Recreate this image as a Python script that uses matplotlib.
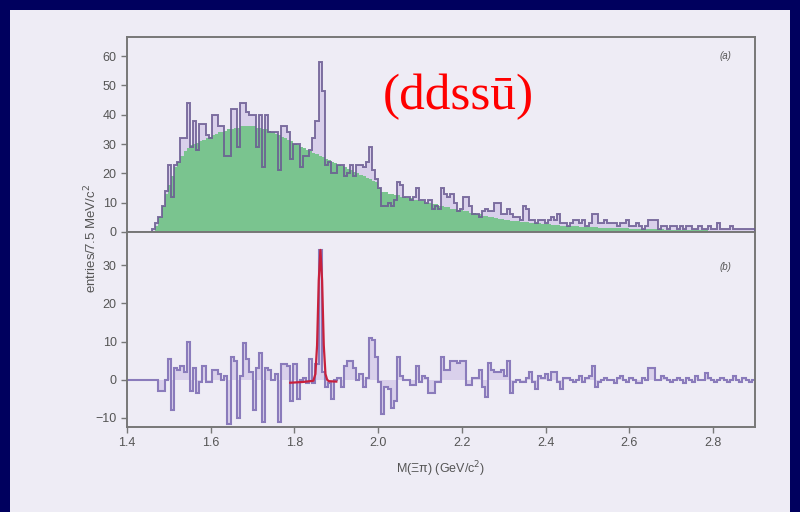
import numpy as np
import matplotlib
matplotlib.use("Agg")
import matplotlib.pyplot as plt
from matplotlib.patches import Rectangle

plt.rcParams['font.family'] = ['Liberation Sans', 'DejaVu Sans']

# Xi-pi invariant mass, 7.5 MeV bins from 1.4 to 2.9 GeV/c^2
mass_lo, mass_hi, n_bins = 1.4, 2.9, 200

# (a) observed entries per bin
data_counts = [
    0, 0, 0, 0, 0, 0, 0, 0, 1, 3,
    5, 9, 14, 23, 12, 23, 24, 32, 32, 44,
    29, 38, 28, 37, 37, 33, 32, 40, 40, 36,
    36, 26, 26, 42, 42, 29, 44, 44, 41, 40,
    40, 29, 40, 22, 40, 34, 34, 34, 21, 36,
    36, 34, 25, 30, 30, 22, 26, 26, 28, 32,
    38, 58, 48, 23, 24, 20, 20, 23, 23, 19,
    20, 23, 19, 23, 23, 22, 24, 29, 21, 18,
    15, 9, 9, 10, 9, 11, 17, 16, 12, 12,
    11, 12, 15, 11, 11, 10, 11, 8, 9, 8,
    15, 13, 12, 13, 10, 7, 8, 12, 12, 9,
    6, 6, 5, 7, 8, 7, 7, 10, 10, 6,
    6, 8, 6, 5, 5, 4, 9, 8, 4, 4,
    3, 4, 4, 3, 4, 5, 4, 6, 3, 3,
    2, 3, 4, 4, 3, 4, 2, 3, 6, 6,
    3, 3, 4, 3, 3, 3, 2, 3, 3, 4,
    2, 2, 3, 2, 1, 2, 4, 4, 4, 1,
    2, 2, 1, 2, 2, 1, 2, 1, 2, 2,
    1, 1, 2, 1, 1, 2, 1, 1, 3, 1,
    1, 1, 2, 1, 1, 1, 1, 1, 1, 1,
]

# (a) mixed-event background, normalised
background = [
    0, 0, 0, 0, 0, 0, 0, 0, 0.5, 2,
    5, 9, 13, 16, 19, 22, 24, 26, 27.5, 28.5,
    29.5, 30, 30.5, 31, 31.5, 32, 32.5, 33, 33.5, 34,
    34, 34.5, 35, 35, 35.5, 35.5, 36, 36, 36, 36,
    36, 35.5, 35.5, 35, 35, 34.5, 34, 33.5, 33, 32.5,
    32, 31.5, 31, 30, 29.5, 29, 28.5, 28, 27.5, 27,
    26.5, 26, 25.5, 25, 24.5, 24, 23.5, 23, 22.5, 22,
    21.5, 21, 20.5, 20, 19.5, 19, 18.5, 18, 17.5, 17,
    15, 13.5, 13.5, 13, 13, 12.5, 12.5, 12, 12, 11.5,
    11.5, 11, 11, 10.5, 10.5, 10, 10, 9.5, 9.5, 9,
    9, 8.5, 8.5, 8, 8, 7.5, 7.5, 7, 7, 6.5,
    6.5, 6, 6, 5.5, 5.5, 5, 5, 4.8, 4.6, 4.4,
    4.2, 4, 3.8, 3.7, 3.6, 3.5, 3.4, 3.3, 3.2, 3.1,
    3, 2.9, 2.8, 2.7, 2.6, 2.5, 2.4, 2.3, 2.2, 2.1,
    2, 2, 1.9, 1.9, 1.8, 1.8, 1.7, 1.7, 1.6, 1.6,
    1.5, 1.5, 1.4, 1.4, 1.3, 1.3, 1.3, 1.2, 1.2, 1.2,
    1.1, 1.1, 1.1, 1, 1, 1, 1, 0.9, 0.9, 0.9,
    0.9, 0.8, 0.8, 0.8, 0.8, 0.7, 0.7, 0.7, 0.7, 0.7,
    0.6, 0.6, 0.6, 0.6, 0.6, 0.5, 0.5, 0.5, 0.5, 0.5,
    0.5, 0.5, 0.4, 0.4, 0.4, 0.4, 0.4, 0.4, 0.4, 0.4,
]

# (b) background-subtracted spectrum
subtracted = [
    0, 0, 0, 0, 0, 0, 0, 0, 0, 0,
    -3, -3, 0, 5.5, -8, 3, 2.5, 3.5, 2, 10,
    -3, 3, -3.5, -0.5, 3.5, -0.5, -0.5, 2.5, 2.5, 1.5,
    0, 1, -11.5, 6, 5, -10, 1, 9.5, 5.5, 2,
    -8, 3, 7, -11, 3, 2.5, 0, 1.5, -11, 4,
    4, 3.5, -5.5, 4, -5, 0, 0.5, -1, 5.5, -1,
    4, 34, 2, -2, -1, -5, 0, 0.5, -2, 3.5,
    5, 5, 3, 0, 1.5, -2, 0.5, 11, 10.5, 6,
    -0.5, -9, -2, -2.5, -7.5, -5.5, 6, 1, 0, 0,
    -1.5, -1.5, 3.5, -0.5, 1, 0.5, -3.5, -3.5, -0.5, -0.5,
    6, 2.5, 2.5, 5, 5, 4.5, 5, 5, -1.5, -1.5,
    0.5, 0.5, 2.5, -2, -4.5, 4.5, 2.5, 2, 2, 2.5,
    1, 5, -3.5, -0.5, 0, -0.5, -0.5, 0.5, 2, -0.5,
    -2.5, 1, 0.5, 1.5, 0, 2, 2, -0.5, -2.5, 0.5,
    0.5, 0, -0.5, 0, 1, -0.5, 0.5, 1, 3.7, -2,
    -0.5, 0, 0.5, 0, 0, -1, 0.5, 1, 0, -0.5,
    0.5, 0, -1, -1, 0.5, 0, 3, 3, 0, 0,
    1, 0.5, 0, -0.5, 0, 0.5, 0, -1, 0.5, 0,
    -0.5, 1, 0, 0, 1.8, 0.5, 0, -0.5, 0, 0.5,
    0, -0.5, 0, 1, 0, -0.5, 0.5, 0, -0.5, 0,
]

# Gaussian fit to the peak near 1.862 GeV/c^2
fit_mass = [1.790, 1.820, 1.845, 1.850, 1.854, 1.858, 1.862,
            1.866, 1.870, 1.874, 1.878, 1.882, 1.900]
fit_value = [-0.8, -0.6, -0.3, 1.5, 9, 26, 34, 26, 9, 1.5, 0, -0.4, -0.5]

x_ticks = [1.4, 1.6, 1.8, 2.0, 2.2, 2.4, 2.6, 2.8]
x_tick_labels = ['1.4', '1.6', '1.8', '2.0', '2.2', '2.4', '2.6', '2.8']
ya_ticks = [0, 10, 20, 30, 40, 50, 60]
yb_ticks = [-10, 0, 10, 20, 30]

edges = np.linspace(mass_lo, mass_hi, n_bins + 1)

NAVY = '#00005e'
PANEL = '#eeecf5'
GREEN = '#7ac48f'
LAV_FILL = '#d9d0eb'
DATA_LINE = '#6a5a92'
SUB_LINE = '#8a7bbb'
SPINE = '#777777'
TXT = '#555555'

fig = plt.figure(figsize=(8, 5.12), dpi=100, facecolor=NAVY)
fig.patches.append(Rectangle((10 / 800, 0), 780 / 800, 502 / 512,
                             transform=fig.transFigure, facecolor=PANEL,
                             edgecolor='none', zorder=-10))

ax_a = fig.add_axes([127 / 800, 1 - 232 / 512, 628 / 800, 195 / 512])
ax_b = fig.add_axes([127 / 800, 1 - 427 / 512, 628 / 800, 195 / 512])

for ax in (ax_a, ax_b):
    ax.set_facecolor(PANEL)
    ax.set_xlim(mass_lo, mass_hi)
    for sp in ax.spines.values():
        sp.set_color(SPINE)
        sp.set_linewidth(1.4)
    ax.tick_params(direction='out', length=4, width=1, colors=SPINE,
                   labelcolor=TXT, labelsize=9)

# (a) data with background overlay
ax_a.stairs(data_counts, edges, fill=True, color=LAV_FILL, zorder=1)
ax_a.stairs(background, edges, fill=True, color=GREEN, zorder=2)
ax_a.stairs(data_counts, edges, color=DATA_LINE, linewidth=1.4,
            alpha=0.85, zorder=3)
ax_a.set_ylim(0, 66.5)
ax_a.set_yticks(ya_ticks)
ax_a.set_xticks(x_ticks)
ax_a.tick_params(axis='x', labelbottom=False, length=0)
ax_a.text(0.962, 0.905, '(a)', transform=ax_a.transAxes, fontsize=7,
          style='italic', color=TXT, ha='right', va='center')

# (b) background-subtracted spectrum with fit
ax_b.fill_between(edges, np.append(subtracted, subtracted[-1]), 0,
                  step='post', color=LAV_FILL, linewidth=0, zorder=1)
ax_b.stairs(subtracted, edges, baseline=None, color=SUB_LINE,
            linewidth=1.5, zorder=2)
ax_b.plot(fit_mass, fit_value, color='#c8203c', linewidth=1.6, zorder=3)
ax_b.set_ylim(-12.4, 38.7)
ax_b.set_yticks(yb_ticks)
ax_b.set_xticks(x_ticks)
ax_b.set_xticklabels(x_tick_labels)
ax_b.text(0.962, 0.82, '(b)', transform=ax_b.transAxes, fontsize=7,
          style='italic', color=TXT, ha='right', va='center')
ax_b.set_xlabel('M(\u039e\u03c0) (GeV/c$^2$)', fontsize=9, color=TXT,
                labelpad=7)

fig.text(91 / 800, 1 - 238 / 512, 'entries/7.5 MeV/c$^2$', rotation=90,
         fontsize=9.5, color=TXT, ha='center', va='center')

fig.text(458 / 800, 1 - 97 / 512, '(ddss\u016b)', fontsize=37,
         color='#ff0000', family=['Liberation Serif', 'DejaVu Serif'],
         ha='center', va='center')

fig.savefig('out.png', dpi=100, facecolor=fig.get_facecolor())
